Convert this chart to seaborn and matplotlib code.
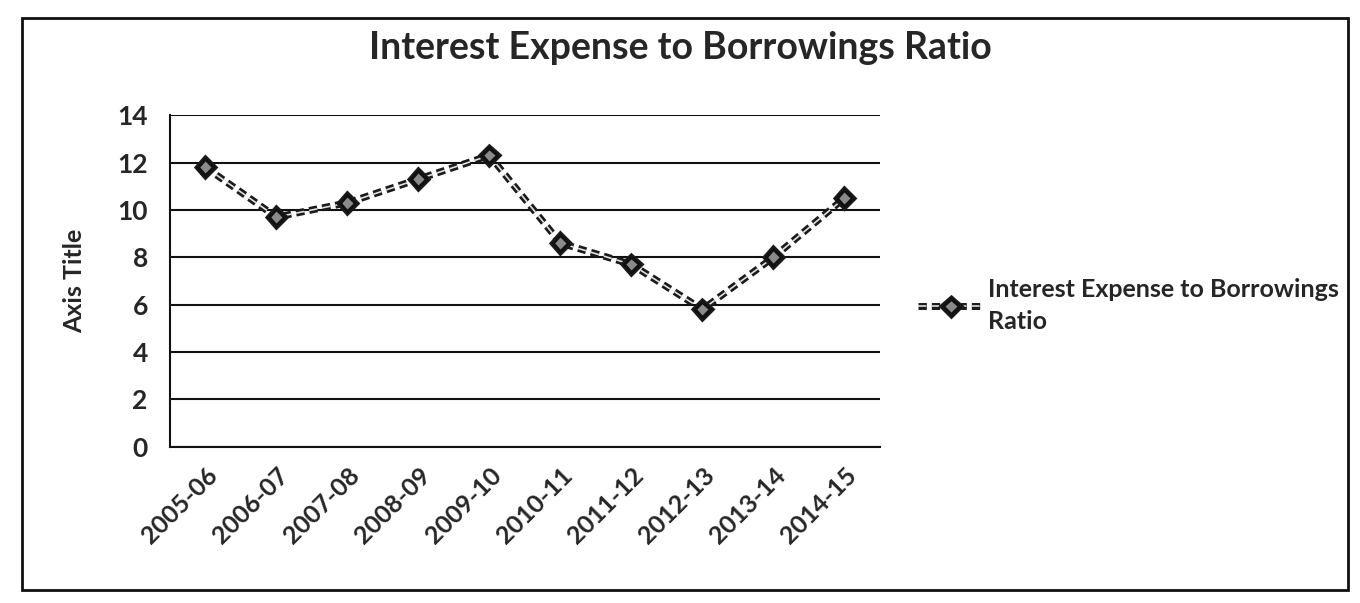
import matplotlib
matplotlib.use("Agg")
import matplotlib.pyplot as plt
import matplotlib.patheffects as pe
from matplotlib.patches import Rectangle
import seaborn as sns
import pandas as pd

years = ["2005-06", "2006-07", "2007-08", "2008-09", "2009-10",
         "2010-11", "2011-12", "2012-13", "2013-14", "2014-15"]
ratio = [11.8, 9.7, 10.3, 11.3, 12.3, 8.6, 7.7, 5.8, 8.0, 10.5]
y_ticks = [0, 2, 4, 6, 8, 10, 12, 14]
series_name = "Interest Expense to Borrowings Ratio"

sns.set_theme(style="white")
plt.rcParams["font.family"] = ["Lato", "DejaVu Sans"]

df = pd.DataFrame({"year": years, "ratio": ratio, "series": series_name})
df["pos"] = range(len(years))

fig = plt.figure(figsize=(13.6, 6.03), dpi=100)
ax = fig.add_axes([0.125, 0.259, 0.522, 0.55])

double_line = [pe.Stroke(linewidth=5, foreground="#1a1a1a"), pe.Normal()]
sns.lineplot(data=df, x="pos", y="ratio", ax=ax, color="#e0e0e0",
             linewidth=1.2, linestyle=(0, (5, 3)), marker="D", markersize=8,
             markerfacecolor="#8a8a8a", markeredgecolor="#111111",
             markeredgewidth=2, path_effects=double_line, legend=False)

ax.set_xlim(-0.5, len(years) - 0.5)
ax.set_ylim(0, 14)
ax.set_yticks(y_ticks)
ax.set_yticklabels([str(t) for t in y_ticks], fontsize=19, fontweight="bold")
ax.set_xticks(range(len(years)))
ax.set_xticklabels(years, rotation=45, ha="right", rotation_mode="anchor",
                   fontsize=18, fontweight="bold")
ax.tick_params(axis="y", length=0, pad=16)
ax.tick_params(axis="x", length=0, pad=12)
ax.set_xlabel("")
ax.set_ylabel("Axis Title", fontsize=18, fontweight="bold", labelpad=22)

ax.grid(axis="y", color="#111111", linewidth=1.5)
ax.grid(axis="x", visible=False)
for side in ["top", "right"]:
    ax.spines[side].set_visible(False)
for side in ["left", "bottom"]:
    ax.spines[side].set_color("#111111")
    ax.spines[side].set_linewidth(1.5)

fig.suptitle(series_name, x=0.5, y=0.948, fontsize=27, fontweight="bold")

handle = plt.Line2D([], [], color="#e0e0e0", linewidth=1.2, linestyle=(0, (5, 3)),
                    marker="D", markersize=8, markerfacecolor="#8a8a8a",
                    markeredgecolor="#111111", markeredgewidth=2,
                    path_effects=double_line)
leg = fig.legend([handle], ["Interest Expense to Borrowings\nRatio"],
                 loc="upper left", bbox_to_anchor=(0.668, 0.555), frameon=False,
                 prop={"size": 18, "weight": "bold"}, handlelength=2.6,
                 handletextpad=0.2, borderaxespad=0)
for t in leg.get_texts():
    t.set_linespacing(1.45)

fig.patches.append(Rectangle((0.016, 0.022), 0.975, 0.948, transform=fig.transFigure,
                             fill=False, edgecolor="#111111", linewidth=2))

fig.savefig("out.png", dpi=100, facecolor="white")
